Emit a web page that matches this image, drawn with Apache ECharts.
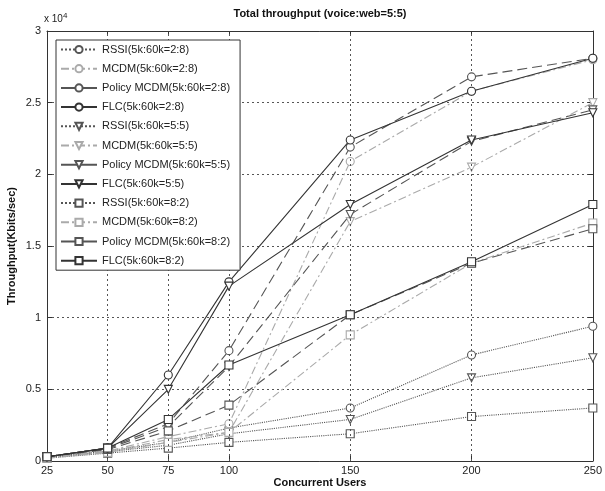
<!DOCTYPE html>
<html><head><meta charset="utf-8">
<script src="https://cdn.jsdelivr.net/npm/echarts@6/dist/echarts.min.js"></script>
<style>html,body{margin:0;padding:0;background:#fff}#c{width:605px;height:491px}</style>
</head><body><div id="c"></div>
<script>
var users = [25, 50, 75, 100, 150, 200, 250];
var xTicks = [25, 50, 75, 100, 150, 200, 250];
var yTicks = [0, 5000, 10000, 15000, 20000, 25000, 30000];

var rssi28   = [300, 700, 1300, 2300, 3700, 7400, 9400];
var mcdm28   = [250, 700, 1700, 2600, 20900, 25800, 28000];
var policy28 = [300, 900, 2600, 7700, 21900, 26800, 28100];
var flc28    = [300, 900, 6000, 12500, 22400, 25800, 28100];

var rssi55   = [250, 650, 1100, 1900, 2900, 5800, 7200];
var mcdm55   = [250, 650, 1500, 2000, 16700, 20500, 25000];
var policy55 = [300, 850, 2400, 6600, 17200, 22300, 24500];
var flc55    = [300, 900, 5000, 12200, 17900, 22400, 24300];

var rssi82   = [200, 550, 900, 1300, 1900, 3100, 3700];
var mcdm82   = [200, 600, 1300, 2000, 8800, 13800, 16600];
var policy82 = [300, 800, 2100, 3900, 10200, 13800, 16200];
var flc82    = [300, 900, 2900, 6700, 10200, 13900, 17900];

var names = ['RSSI(5k:60k=2:8)','MCDM(5k:60k=2:8)','Policy MCDM(5k:60k=2:8)','FLC(5k:60k=2:8)',
             'RSSI(5k:60k=5:5)','MCDM(5k:60k=5:5)','Policy MCDM(5k:60k=5:5)','FLC(5k:60k=5:5)',
             'RSSI(5k:60k=8:2)','MCDM(5k:60k=8:2)','Policy MCDM(5k:60k=8:2)','FLC(5k:60k=8:2)'];
var values = [rssi28, mcdm28, policy28, flc28, rssi55, mcdm55, policy55, flc55, rssi82, mcdm82, policy82, flc82];

var styles = [
  {color:'#555', type:'dotted', width:1.1},
  {color:'#aaa', type:[8,3,2,3], width:1.1},
  {color:'#555', type:[10,5], width:1.1},
  {color:'#333', type:'solid', width:1.1}
];
var symbols = ['circle', 'triangle', 'rect'];
var rot = [0, 180, 0];

var series = [];
var legendData = [];
for (var i = 0; i < 12; i++) {
  var g = Math.floor(i / 4), k = i % 4, st = styles[k];
  series.push({
    name: names[i], type: 'line',
    data: users.map(function (u, j) { return [u, values[i][j]]; }),
    symbol: symbols[g], symbolRotate: rot[g], symbolSize: 8,
    showAllSymbol: true,
    lineStyle: {color: st.color, type: st.type, width: st.width},
    itemStyle: {color: '#fff', borderColor: st.color, borderWidth: 1.1},
    emphasis: {disabled: true},
    z: 3 + k
  });
  legendData.push({name: names[i], lineStyle: {type: k === 2 ? 'solid' : st.type}});
}
// vertical grid lines at the x ticks
series.push({
  type: 'line', data: [], silent: true,
  markLine: {
    silent: true, symbol: 'none', label: {show: false},
    lineStyle: {color: '#555', type: [2, 3], width: 1},
    data: xTicks.slice(1, -1).map(function (v) { return {xAxis: v}; })
  }
});

var font = 'Liberation Sans, Arial, sans-serif';
var chart = echarts.init(document.getElementById('c'), null, {renderer: 'canvas'});
chart.setOption({
  animation: false,
  backgroundColor: '#fff',
  grid: {left: 47, right: 11, top: 31, bottom: 30, containLabel: false},
  xAxis: [{
    type: 'value', min: 25, max: 250, interval: 25, position: 'bottom',
    axisLine: {show: true, onZero: false, lineStyle: {color: '#333', width: 1}},
    axisTick: {show: true, inside: true, length: 5, customValues: xTicks, lineStyle: {color: '#333'}},
    axisLabel: {customValues: xTicks, color: '#222', fontSize: 11, fontFamily: font, margin: 4},
    splitLine: {show: false}
  }, {
    type: 'value', min: 25, max: 250, interval: 25, position: 'top',
    axisLine: {show: true, onZero: false, lineStyle: {color: '#333', width: 1}},
    axisTick: {show: true, inside: true, length: 5, customValues: xTicks, lineStyle: {color: '#333'}},
    axisLabel: {show: false}, splitLine: {show: false}
  }],
  yAxis: [{
    type: 'value', min: 0, max: 30000, interval: 5000, position: 'left',
    axisLine: {show: true, onZero: false, lineStyle: {color: '#333', width: 1}},
    axisTick: {show: true, inside: true, length: 5, lineStyle: {color: '#333'}},
    axisLabel: {color: '#222', fontSize: 11, fontFamily: font, margin: 6,
      formatter: function (v) { return String(v / 10000); }},
    splitLine: {show: true, lineStyle: {color: '#555', type: [2, 3], width: 1}}
  }, {
    type: 'value', min: 0, max: 30000, interval: 5000, position: 'right',
    axisLine: {show: true, onZero: false, lineStyle: {color: '#333', width: 1}},
    axisTick: {show: true, inside: true, length: 5, lineStyle: {color: '#333'}},
    axisLabel: {show: false}, splitLine: {show: false}
  }],
  legend: {
    data: legendData, orient: 'vertical', left: 56, top: 40, z: 20,
    itemWidth: 36, itemHeight: 9, itemGap: 8.2,
    padding: [4, 10, 4, 4],
    backgroundColor: '#fff', borderColor: '#333', borderWidth: 1,
    textStyle: {fontSize: 11, fontFamily: font, color: '#222'},
    selectedMode: false
  },
  graphic: [
    {type: 'text', x: 320, y: 8, style: {text: 'Total throughput (voice:web=5:5)', font: 'bold 11px ' + font, fill: '#111', align: 'center'}},
    {type: 'text', x: 320, y: 477, style: {text: 'Concurrent Users', font: 'bold 11px ' + font, fill: '#111', align: 'center'}},
    {type: 'text', x: 6, y: 246, rotation: Math.PI / 2, style: {text: 'Throughput(Kbits/sec)', font: 'bold 11px ' + font, fill: '#111', align: 'center', verticalAlign: 'top'}},
    {type: 'text', x: 44, y: 12, style: {text: '{a|x 10}{b|4}', rich: {a: {fontSize: 10, fontFamily: font, fill: '#222'}, b: {fontSize: 8, fontFamily: font, fill: '#222', verticalAlign: 'top', padding: [0,0,6,0]}}}}
  ],
  series: series
});
</script></body></html>
